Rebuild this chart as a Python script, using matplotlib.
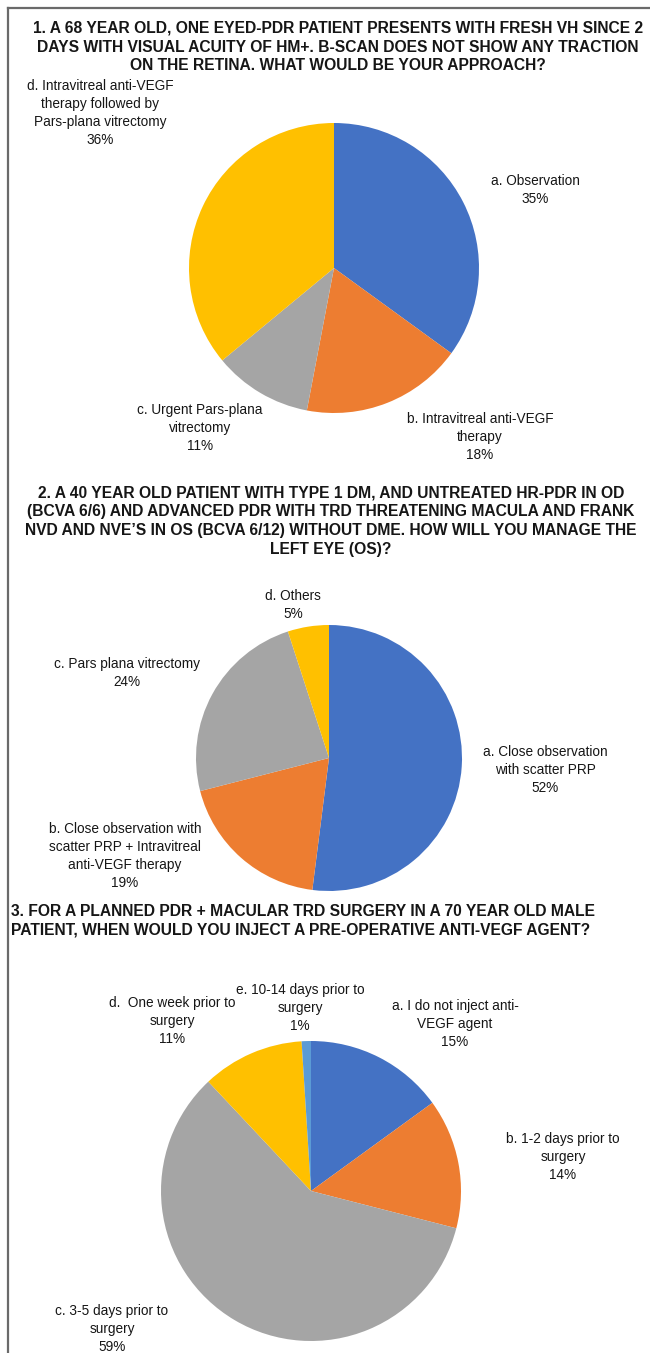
import matplotlib
matplotlib.use("Agg")
import matplotlib.pyplot as plt
from matplotlib.lines import Line2D

# ---- survey data -------------------------------------------------------
q1_title = ("1. A 68 YEAR OLD, ONE EYED-PDR PATIENT PRESENTS WITH FRESH VH SINCE 2\n"
            "DAYS WITH VISUAL ACUITY OF HM+. B-SCAN DOES NOT SHOW ANY TRACTION\n"
            "ON THE RETINA. WHAT WOULD BE YOUR APPROACH?")
q1_labels = ["a. Observation",
             "b. Intravitreal anti-VEGF\ntherapy",
             "c. Urgent Pars-plana\nvitrectomy",
             "d. Intravitreal anti-VEGF\ntherapy followed by\nPars-plana vitrectomy"]
q1_values = [35, 18, 11, 36]

q2_title = ("2. A 40 YEAR OLD PATIENT WITH TYPE 1 DM, AND UNTREATED HR-PDR IN OD\n"
            "(BCVA 6/6) AND ADVANCED PDR WITH TRD THREATENING MACULA AND FRANK\n"
            "NVD AND NVE\u2019S IN OS (BCVA 6/12) WITHOUT DME. HOW WILL YOU MANAGE THE\n"
            "LEFT EYE (OS)?")
q2_labels = ["a. Close observation\nwith scatter PRP",
             "b. Close observation with\nscatter PRP + Intravitreal\nanti-VEGF therapy",
             "c. Pars plana vitrectomy",
             "d. Others"]
q2_values = [52, 19, 24, 5]

q3_title = ("3. FOR A PLANNED PDR + MACULAR TRD SURGERY IN A 70 YEAR OLD MALE\n"
            "PATIENT, WHEN WOULD YOU INJECT A PRE-OPERATIVE ANTI-VEGF AGENT?")
q3_labels = ["a. I do not inject anti-\nVEGF agent",
             "b. 1-2 days prior to\nsurgery",
             "c. 3-5 days prior to\nsurgery",
             "d.  One week prior to\nsurgery",
             "e. 10-14 days prior to\nsurgery"]
q3_values = [15, 14, 59, 11, 1]

# ---- styling -----------------------------------------------------------
BLUE, ORANGE, GREY, GOLD, LBLUE = "#4472C4", "#ED7D31", "#A5A5A5", "#FFC000", "#5B9BD5"
W, H = 650, 1353
TITLE_FONT = ["Liberation Sans Narrow", "Liberation Sans", "DejaVu Sans"]
LABEL_FONT = ["Liberation Sans", "DejaVu Sans"]
TEXT_COLOR = "#161616"

fig = plt.figure(figsize=(W / 100, H / 100), dpi=100)
fig.patch.set_facecolor("white")


def fx(x):
    return x / W


def fy(y):
    return 1 - y / H


def pie_axes(cx, cy, r, values, colors):
    ax = fig.add_axes([(cx - r) / W, 1 - (cy + r) / H, 2 * r / W, 2 * r / H])
    ax.pie(values, colors=colors, startangle=90, counterclock=False,
           radius=1.0, wedgeprops=dict(linewidth=0))
    ax.set_xlim(-1.0, 1.0)
    ax.set_ylim(-1.0, 1.0)
    ax.set_aspect("equal")
    ax.axis("off")
    return ax


def label(x, y, text, value):
    fig.text(fx(x), fy(y), f"{text}\n{value}%", ha="center", va="center",
             fontsize=9.8, family=LABEL_FONT, color=TEXT_COLOR, linespacing=1.36)


def title(x, y, text, ha="center"):
    fig.text(fx(x), fy(y), text, ha=ha, va="center", fontsize=11.25,
             fontweight="bold", family=TITLE_FONT, color=TEXT_COLOR,
             linespacing=1.32, multialignment=ha)


# frame lines along the top and left edge
fig.add_artist(Line2D([fx(7.5), fx(W)], [fy(7.5), fy(7.5)], color="#6a6a6a", lw=1.6))
fig.add_artist(Line2D([fx(7.5), fx(7.5)], [fy(7.5), fy(H)], color="#6a6a6a", lw=1.6))

# ---- question 1 --------------------------------------------------------
title(338, 47, q1_title)
pie_axes(334, 268, 145, q1_values, [BLUE, ORANGE, GREY, GOLD])
label(535, 190, q1_labels[0], q1_values[0])
label(480, 437, q1_labels[1], q1_values[1])
label(200, 428, q1_labels[2], q1_values[2])
label(100, 113, q1_labels[3], q1_values[3])

# ---- question 2 --------------------------------------------------------
title(331, 521, q2_title)
pie_axes(329, 758, 133, q2_values, [BLUE, ORANGE, GREY, GOLD])
label(545, 770, q2_labels[0], q2_values[0])
label(125, 856, q2_labels[1], q2_values[1])
label(127, 673, q2_labels[2], q2_values[2])
label(293, 605, q2_labels[3], q2_values[3])

# ---- question 3 --------------------------------------------------------
title(11, 921, q3_title, ha="left")
pie_axes(311, 1191, 150, q3_values, [BLUE, ORANGE, GREY, GOLD, LBLUE])
label(455, 1024, q3_labels[0], q3_values[0])
label(563, 1157, q3_labels[1], q3_values[1])
label(112, 1329, q3_labels[2], q3_values[2])
label(172, 1021, q3_labels[3], q3_values[3])
label(300, 1008, q3_labels[4], q3_values[4])

fig.savefig("out.png", dpi=100, facecolor="white")
